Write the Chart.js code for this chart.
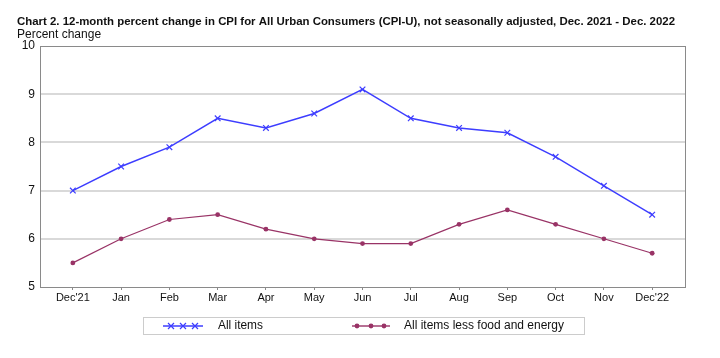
<!DOCTYPE html>
<html>
<head>
<meta charset="utf-8">
<script src="https://cdn.jsdelivr.net/npm/chart.js@4.4.0/dist/chart.umd.min.js"></script>
<style>
  html, body { margin: 0; padding: 0; background: #fff; }
  #wrap { position: relative; width: 720px; height: 358px; }
</style>
</head>
<body>
<div id="wrap"><canvas id="cpiChart" width="720" height="358"></canvas></div>
<script>
const months = ["Dec'21", 'Jan', 'Feb', 'Mar', 'Apr', 'May', 'Jun', 'Jul', 'Aug', 'Sep', 'Oct', 'Nov', "Dec'22"];
const allItems = [7.0, 7.5, 7.9, 8.5, 8.3, 8.6, 9.1, 8.5, 8.3, 8.2, 7.7, 7.1, 6.5];
const lessFoodEnergy = [5.5, 6.0, 6.4, 6.5, 6.2, 6.0, 5.9, 5.9, 6.3, 6.6, 6.3, 6.0, 5.7];
const yTicks = [5, 6, 7, 8, 9, 10];

const titleText = 'Chart 2. 12-month percent change in CPI for All Urban Consumers (CPI-U), not seasonally adjusted, Dec. 2021 - Dec. 2022';
const FONT = "'Liberation Sans', Arial, sans-serif";
const BLUE = '#3d3dff';
const MAROON = '#993366';

const toPoints = arr => arr.map((v, i) => ({ x: i, y: v }));

// title, frame and legend box
const decor = {
  id: 'decor',
  beforeDatasetsDraw(chart) {
    const { ctx, chartArea: a } = chart;
    ctx.save();
    ctx.strokeStyle = '#8a8a8a';
    ctx.lineWidth = 1;
    ctx.strokeRect(a.left + 0.5, a.top + 0.5, a.right - a.left, a.bottom - a.top);
    ctx.restore();
  },
  afterDraw(chart) {
    const ctx = chart.ctx;
    ctx.save();
    ctx.fillStyle = '#111';
    ctx.textBaseline = 'alphabetic';
    ctx.font = 'bold 11.5px ' + FONT;
    ctx.fillText(titleText, 17, 24.5, 658);
    ctx.font = '12px ' + FONT;
    ctx.fillText('Percent change', 17, 38);

    // legend
    ctx.strokeStyle = '#cccccc';
    ctx.lineWidth = 1;
    ctx.strokeRect(143.5, 317.5, 441, 17);
    const ly = 326;
    ctx.strokeStyle = 'rgba(61,61,255,0.75)';
    ctx.lineWidth = 2;
    ctx.beginPath(); ctx.moveTo(163, ly); ctx.lineTo(203, ly); ctx.stroke();
    ctx.strokeStyle = BLUE;
    ctx.lineWidth = 1.2;
    [171, 183, 195].forEach(x => {
      ctx.beginPath();
      ctx.moveTo(x - 3, ly - 3); ctx.lineTo(x + 3, ly + 3);
      ctx.moveTo(x - 3, ly + 3); ctx.lineTo(x + 3, ly - 3);
      ctx.stroke();
    });
    ctx.strokeStyle = 'rgba(153,51,102,0.7)';
    ctx.lineWidth = 2;
    ctx.beginPath(); ctx.moveTo(352, ly); ctx.lineTo(390, ly); ctx.stroke();
    ctx.fillStyle = MAROON;
    [357, 371, 384].forEach(x => {
      ctx.beginPath(); ctx.arc(x, ly, 2.4, 0, Math.PI * 2); ctx.fill();
    });
    ctx.fillStyle = '#111';
    ctx.textBaseline = 'middle';
    ctx.font = '12px ' + FONT;
    ctx.fillText('All items', 218, ly, 45);
    ctx.fillText('All items less food and energy', 404, ly, 160);
    ctx.restore();
  }
};

new Chart(document.getElementById('cpiChart').getContext('2d'), {
  type: 'line',
  data: {
    datasets: [
      {
        label: 'All items',
        data: toPoints(allItems),
        borderColor: BLUE,
        backgroundColor: BLUE,
        borderWidth: 1.4,
        pointStyle: 'crossRot',
        pointRadius: 4,
        pointBorderWidth: 1.2,
        tension: 0
      },
      {
        label: 'All items less food and energy',
        data: toPoints(lessFoodEnergy),
        borderColor: MAROON,
        backgroundColor: MAROON,
        borderWidth: 1.2,
        pointStyle: 'circle',
        pointRadius: 2.4,
        pointBorderWidth: 0,
        tension: 0
      }
    ]
  },
  options: {
    responsive: false,
    animation: false,
    layout: { padding: { top: 46, left: 0, right: 35, bottom: 0 } },
    plugins: {
      legend: { display: false },
      title: { display: false },
      tooltip: { enabled: false }
    },
    scales: {
      x: {
        type: 'linear',
        min: -0.68,
        max: 12.68,
        afterFit: s => { s.height = 71; },
        border: { display: false },
        grid: { drawOnChartArea: false, drawTicks: true, tickLength: 3, color: '#8a8a8a' },
        ticks: {
          stepSize: 1,
          includeBounds: false,
          autoSkip: false,
          maxRotation: 0,
          padding: 1,
          color: '#111',
          font: { family: FONT, size: 11 },
          callback: v => months[v]
        }
      },
      y: {
        min: 5,
        max: 10,
        afterFit: s => { s.width = 40; },
        afterBuildTicks: s => { s.ticks = yTicks.map(v => ({ value: v })); },
        border: { display: false },
        grid: {
          drawTicks: false,
          lineWidth: ctx => (ctx.tick && (ctx.tick.value === 5 || ctx.tick.value === 10)) ? 0 : 2,
          color: '#d9d9d9'
        },
        ticks: {
          padding: 5,
          color: '#111',
          font: { family: FONT, size: 12 }
        }
      }
    }
  },
  plugins: [decor]
});
</script>
</body>
</html>
